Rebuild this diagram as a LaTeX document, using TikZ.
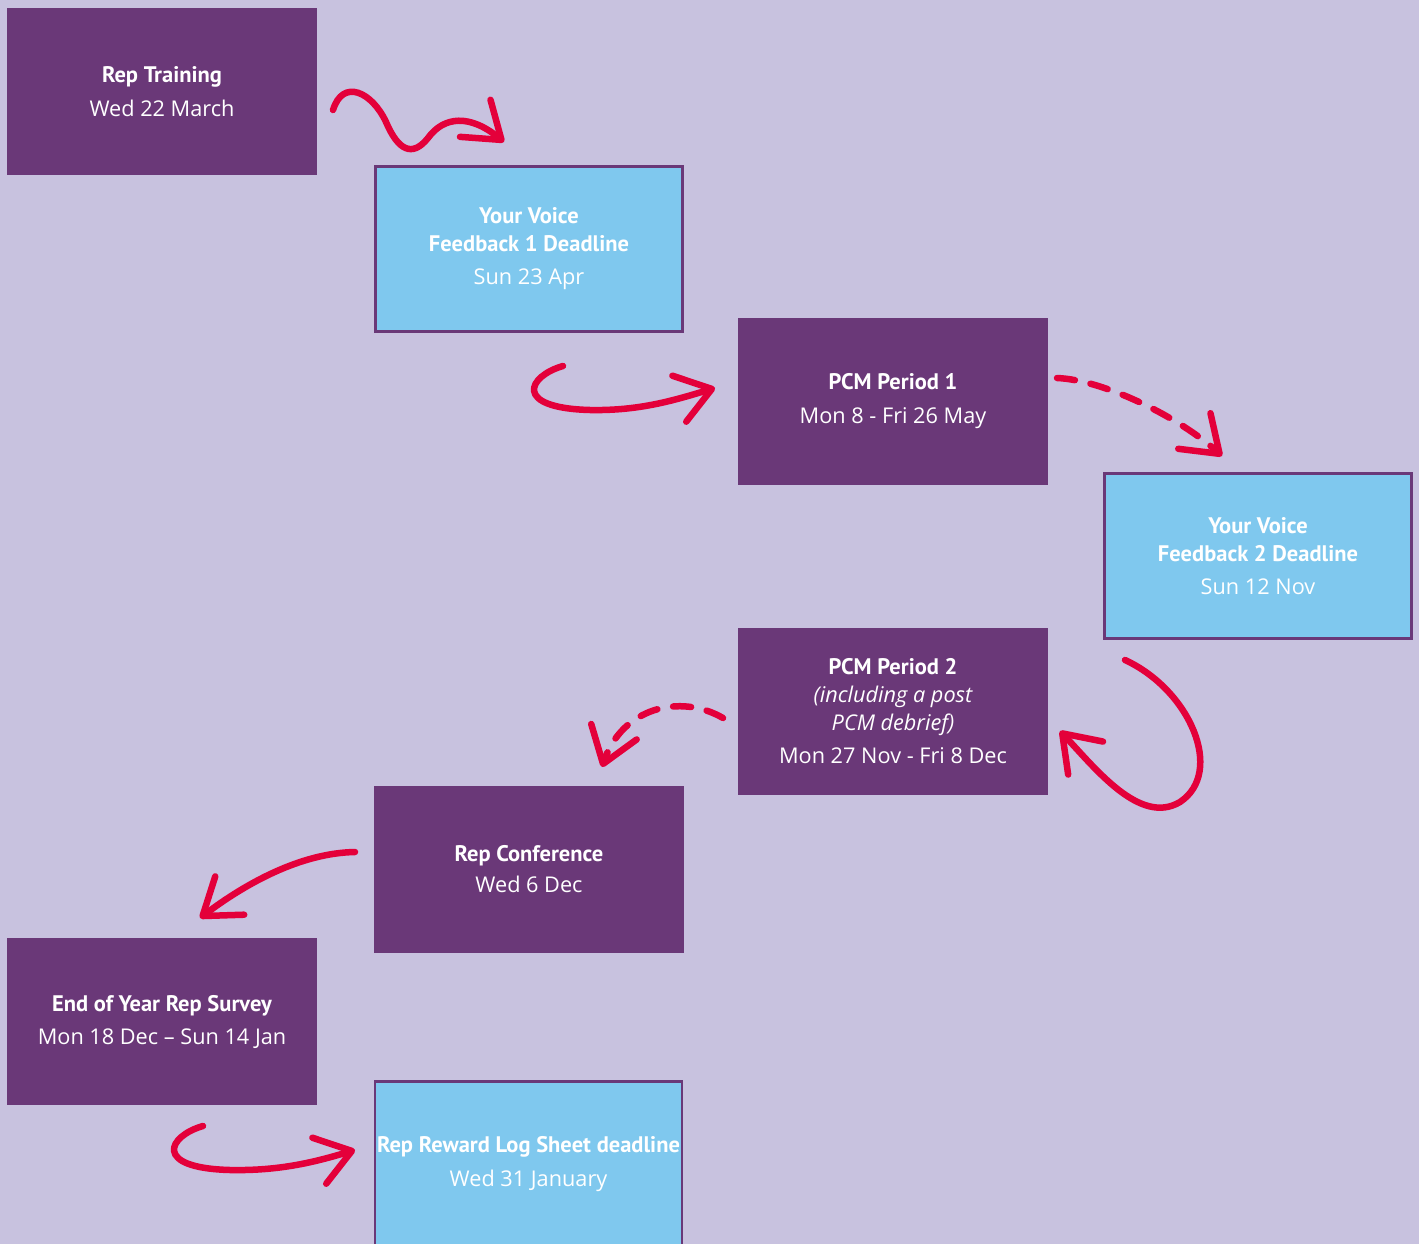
\documentclass[tikz,border=0pt]{standalone}
\usepackage{fontspec}
\setmainfont{Open Sans}
\newfontfamily\headfont{PT Sans}
\usetikzlibrary{arrows.meta}
\definecolor{lavender}{HTML}{C8C2DF}
\definecolor{plum}{HTML}{6A3878}
\definecolor{sky}{HTML}{7FC8EE}
\definecolor{rosered}{HTML}{E4003A}
\newcommand{\boxhead}[1]{{\headfont\bfseries\fontsize{22.5}{28}\selectfont #1}}
\tikzset{
  % event boxes
  box/.style = {
    minimum width = 310pt,
    minimum height = 167pt,
    inner sep = 0pt,
    align = center,
    text = white,
    font = \fontsize{21.7}{28}\selectfont
  },
  purplebox/.style = {
    box,
    fill = plum
  },
  bluebox/.style = {
    box,
    fill = sky,
    draw = plum,
    line width = 2.5pt,
    minimum width = 307pt,
    minimum height = 165pt
  },
  % hand drawn arrows
  swoosh/.style = {
    draw = rosered,
    line width = 6.5pt,
    line cap = round,
    -{Straight Barb[length=34pt, width=48pt, line cap=round, line join=round]}
  },
  dswoosh/.style = {
    swoosh,
    dash pattern = on 18pt off 16pt
  }
}
\begin{document}
\begin{tikzpicture}[x=1pt, y=-1pt]
    \fill[lavender] (0,0) rectangle (1419,1244);
    \clip (0,0) rectangle (1419,1244);

    \node[purplebox] (train) at (162,91.5)
      {\boxhead{Rep Training}\\[6pt] Wed 22 March};
    \node[bluebox] (fb1) at (529,249)
      {\boxhead{Your Voice}\\ \boxhead{Feedback 1 Deadline}\\[5pt] Sun 23 Apr};
    \node[purplebox] (pcm1) at (893,401.5)
      {\boxhead{PCM Period 1}\\[6pt] Mon 8 - Fri 26 May};
    \node[bluebox] (fb2) at (1258,556)
      {\boxhead{Your Voice}\\ \boxhead{Feedback 2 Deadline}\\[5pt] Sun 12 Nov};
    \node[purplebox] (pcm2) at (893,711.5)
      {\boxhead{PCM Period 2}\\ \itshape (including a post\\ \itshape PCM debrief)\\[5pt] Mon 27 Nov - Fri 8 Dec};
    \node[purplebox] (conf) at (529,869.5)
      {\boxhead{Rep Conference}\\[3pt] Wed 6 Dec};
    \node[purplebox] (survey) at (162,1021.5)
      {\boxhead{End of Year Rep Survey}\\[5pt] Mon 18 Dec -- Sun 14 Jan};
    \node[bluebox] (reward) at (528.5,1164)
      {\boxhead{Rep Reward Log Sheet deadline}\\[6pt] Wed 31 January};

    % arrow ends
    \coordinate (train-fb1 a) at (333,110);
    \coordinate (train-fb1 b) at (504,142);
    \coordinate (fb1-pcm1 a) at (563,366);
    \coordinate (fb1-pcm1 b) at (715,388);
    \coordinate (pcm1-fb2 a) at (1057,378);
    \coordinate (pcm1-fb2 b) at (1222,456);
    \coordinate (fb2-pcm2 a) at (1125,660);
    \coordinate (fb2-pcm2 b) at (1060,731);
    \coordinate (pcm2-conf a) at (723,718);
    \coordinate (pcm2-conf b) at (602,767);
    \coordinate (conf-survey a) at (355,852);
    \coordinate (conf-survey b) at (200,918);
    \coordinate (survey-reward a) at (203,1126);
    \coordinate (survey-reward b) at (355,1150);

    % arrows
    \draw[swoosh] (train-fb1 a)
      .. controls (343,78) and (372,92) .. (386,122)
      .. controls (398,150) and (412,158) .. (428,138)
      .. controls (444,116) and (470,114) .. (train-fb1 b);
    \draw[swoosh] (fb1-pcm1 a)
      .. controls (528,376) and (512,408) .. (590,410)
      .. controls (640,411) and (675,400) .. (fb1-pcm1 b);
    \draw[dswoosh] (pcm1-fb2 a)
      .. controls (1105,380) and (1180,418) .. (pcm1-fb2 b);
    \draw[swoosh] (fb2-pcm2 a)
      .. controls (1190,690) and (1225,772) .. (1180,802)
      .. controls (1140,826) and (1095,768) .. (fb2-pcm2 b);
    \draw[dswoosh] (pcm2-conf a)
      .. controls (680,693) and (622,708) .. (pcm2-conf b);
    \draw[swoosh] (conf-survey a)
      .. controls (300,853) and (245,884) .. (conf-survey b);
    \draw[swoosh] (survey-reward a)
      .. controls (168,1136) and (152,1168) .. (230,1170)
      .. controls (280,1171) and (315,1162) .. (survey-reward b);
\end{tikzpicture}
\end{document}
